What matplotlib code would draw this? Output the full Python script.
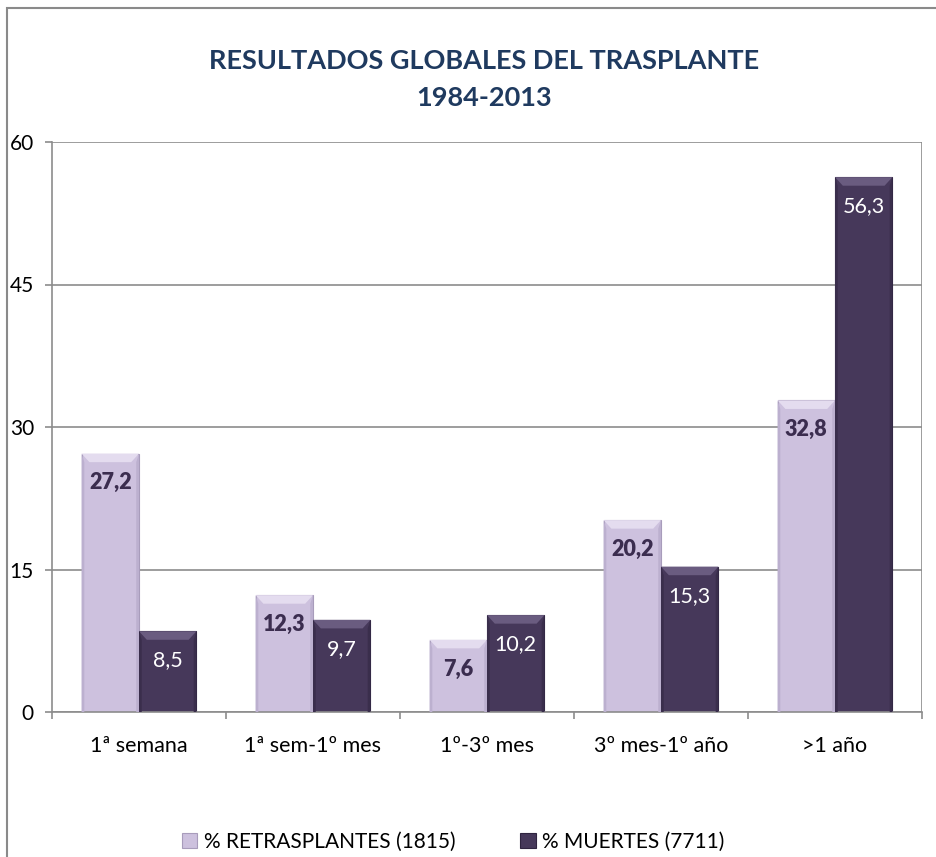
import matplotlib.pyplot as plt
import numpy as np
from matplotlib.patches import Polygon, Rectangle

# data
categories = ["1ª semana", "1ª sem-1º mes", "1º-3º mes", "3º mes-1º año", ">1 año"]
retrasplantes = [27.2, 12.3, 7.6, 20.2, 32.8]
muertes = [8.5, 9.7, 10.2, 15.3, 56.3]
series_names = ["% RETRASPLANTES (1815)", "% MUERTES (7711)"]
yticks = [0, 15, 30, 45, 60]

light = "#cdc1de"
dark = "#46385a"
label_dark = "#3b2d4f"
title_col = "#1f3a5f"
grid_col = "#8c8c8c"

plt.rcParams['font.family'] = ['Lato', 'DejaVu Sans']

fig = plt.figure(figsize=(9.36, 8.57), dpi=100)
ax = fig.add_axes([52 / 936, 1 - 712 / 857, 870 / 936, 570 / 857])

# outer chart border (runs off the right and bottom edges in the reference)
fig.patches.append(Rectangle((7 / 936, -0.05), 1.1, 1 - 8 / 857 + 0.05,
                             transform=fig.transFigure, fill=False,
                             edgecolor="#8a8a8a", linewidth=1.5))

x = np.arange(len(categories))
w = 0.33


def bevel(ax, xs, vals, top_col, side_col):
    # fake Excel-like bevel: lighter top band, darker side strips
    bh = 0.9
    bw = 0.045
    for xc, v in zip(xs, vals):
        l, r = xc - w / 2, xc + w / 2
        ax.add_patch(Polygon([(l, v), (r, v), (r - bw, v - bh), (l + bw, v - bh)],
                             closed=True, facecolor=top_col, edgecolor="none", zorder=3))
        ax.add_patch(Polygon([(l, 0), (l, v), (l + bw * 0.35, v - bh), (l + bw * 0.35, 0)],
                             closed=True, facecolor=side_col, edgecolor="none", zorder=3))
        ax.add_patch(Polygon([(r, 0), (r, v), (r - bw * 0.35, v - bh), (r - bw * 0.35, 0)],
                             closed=True, facecolor=side_col, edgecolor="none", zorder=3))


b1 = ax.bar(x - w / 2, retrasplantes, w, color=light, edgecolor="#a89cbb",
            linewidth=0.8, zorder=2, label=series_names[0])
b2 = ax.bar(x + w / 2, muertes, w, color=dark, edgecolor="#2f2440",
            linewidth=0.8, zorder=2, label=series_names[1])
bevel(ax, x - w / 2, retrasplantes, "#e4dcef", "#bcb0cf")
bevel(ax, x + w / 2, muertes, "#6a5c80", "#3a2e4c")

for xc, v in zip(x - w / 2, retrasplantes):
    ax.annotate(f"{v:.1f}".replace(".", ","), (xc, v), xytext=(0, -21),
                textcoords="offset points", ha="center", va="center",
                fontsize=15.5, fontweight="heavy", color=label_dark, zorder=4)
for xc, v in zip(x + w / 2, muertes):
    ax.annotate(f"{v:.1f}".replace(".", ","), (xc, v), xytext=(0, -21),
                textcoords="offset points", ha="center", va="center",
                fontsize=15.5, color="white", zorder=4)

ax.set_xlim(-0.5, len(categories) - 0.5)
ax.set_ylim(0, 60)
ax.set_yticks(yticks)
ax.set_yticklabels([str(t) for t in yticks], fontsize=15)
ax.yaxis.grid(True, color=grid_col, linewidth=1.2, zorder=0)
ax.set_axisbelow(True)
ax.tick_params(axis="y", length=5, width=1.2, color=grid_col, pad=8)

ax.set_xticks(x)
ax.set_xticklabels(categories, fontsize=15.5)
ax.tick_params(axis="x", length=0, pad=17)
ax.set_xticks(np.arange(len(categories) + 1) - 0.5, minor=True)
ax.tick_params(axis="x", which="minor", length=5, width=1.2, color=grid_col)

for s in ["top", "right"]:
    ax.spines[s].set_visible(False)
for s in ["left", "bottom"]:
    ax.spines[s].set_color(grid_col)
    ax.spines[s].set_linewidth(1.2)
ax.axvline(len(categories) - 0.5, color=grid_col, linewidth=1.2, zorder=0)

fig.text(484 / 936, 1 - 61 / 857, "RESULTADOS GLOBALES DEL TRASPLANTE",
         ha="center", va="center", fontsize=19.5, fontweight="bold", color=title_col)
fig.text(484 / 936, 1 - 98 / 857, "1984-2013",
         ha="center", va="center", fontsize=19.5, fontweight="bold", color=title_col)

fig.legend(handles=[b1, b2], loc="center", bbox_to_anchor=(453 / 936, 1 - 842 / 857),
           ncol=2, frameon=False, fontsize=15, handlelength=0.75, handleheight=0.75,
           handletextpad=0.3, columnspacing=3.1)

fig.savefig("out.png", dpi=100)
